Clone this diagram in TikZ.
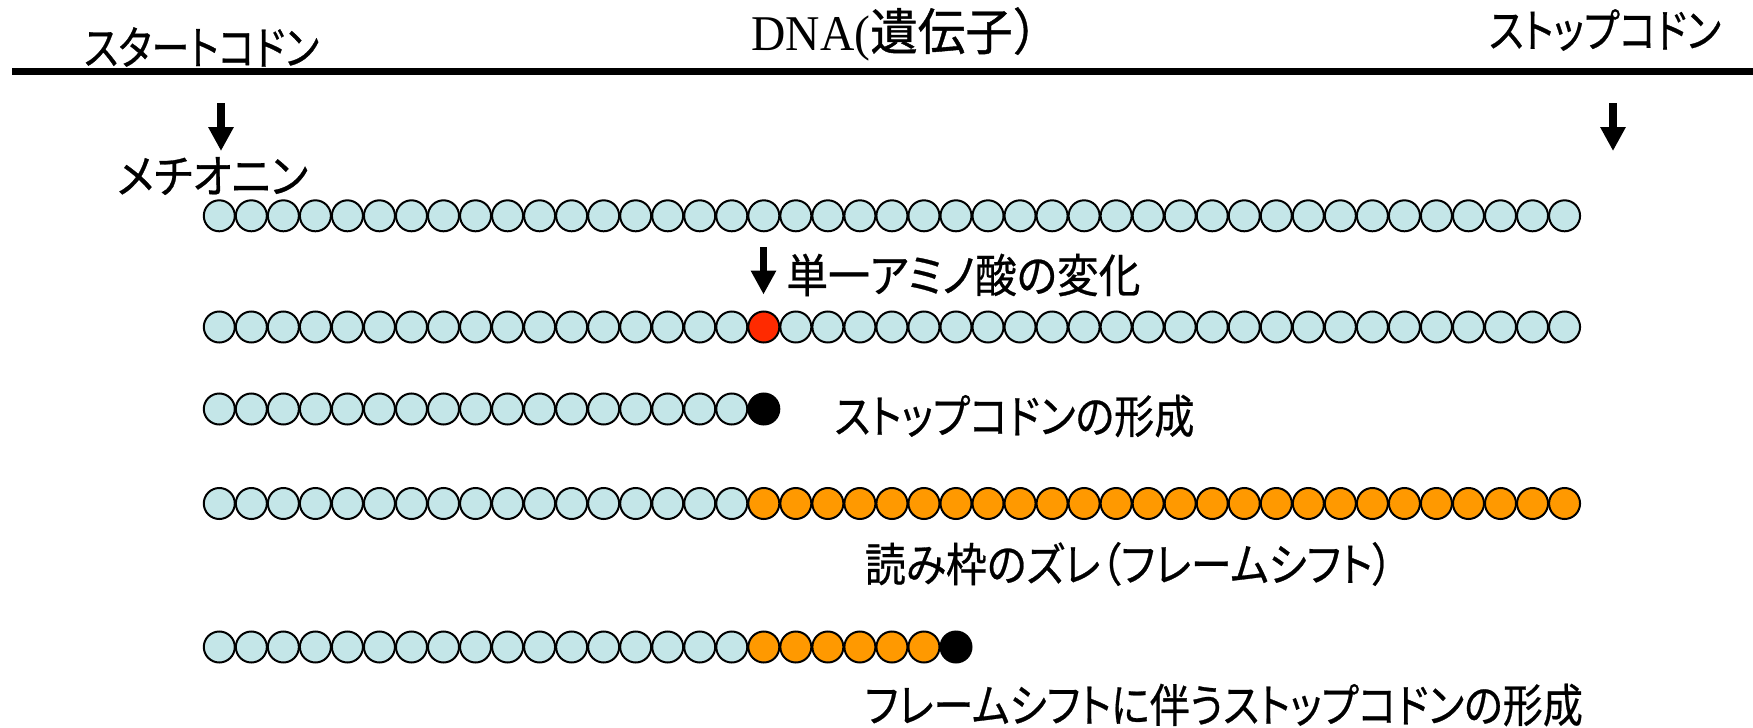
\documentclass[tikz,border=0pt]{standalone}
\usepackage{fontspec}
\setmainfont{Liberation Serif}
\newfontfamily\jp[RawFeature=+palt,FakeBold=0.6]{Noto Sans CJK JP}
\newfontfamily\jpw[FakeBold=0.8]{Noto Sans CJK JP}
\usetikzlibrary{arrows.meta}
\definecolor{aa}{RGB}{196,230,232}
\definecolor{mut}{RGB}{255,42,0}
\definecolor{fshift}{RGB}{255,153,0}
\newcommand{\fitw}[2]{\resizebox{#1}{\height}{#2}}
\begin{document}
\begin{tikzpicture}[x=0.5pt,y=-0.5pt,
  bead/.style={circle,draw=black,line width=1pt,minimum size=15.5pt,inner sep=0pt},
  lab/.style={inner sep=0pt,font=\jp\fontsize{23pt}{27pt}\selectfont},
  darrow/.style={line width=3.75pt,-{Triangle[width=12pt,length=12pt]}}]
\useasboundingbox (0,0) rectangle (1753,728);
% DNA line
\coordinate (L0) at (12,71.5);
\coordinate (L1) at (1753,71.5);
\draw[line width=3.75pt] (L0) -- (L1);
% labels
\node[lab] (start) at (201.5,47) {\fitw{117.5pt}{スタートコドン}};
\node[lab] (stop) at (1605,30) {\fitw{116pt}{ストップコドン}};
\node[inner sep=0pt,anchor=west] (dna) at (751,34) {\fitw{154.5pt}{\fontsize{25pt}{30pt}\selectfont DNA({\jpw 遺伝子）}}};
\node[lab] (met) at (212.5,176) {\fitw{95.5pt}{メチオニン}};
\node[lab,anchor=west] (single) at (786,275) {\fitw{177pt}{単一アミノ酸の変化}};
\node[lab,anchor=west] (stopform) at (834,416) {\fitw{180pt}{ストップコドンの形成}};
\node[lab,anchor=west] (frame) at (864.5,564) {\fitw{264pt}{読み枠のズレ（フレームシフト）}};
\node[lab,anchor=west] (framestop) at (864.5,705) {\fitw{359pt}{フレームシフトに伴うストップコドンの形成}};
% arrows
\coordinate (a1s) at (221,103); \coordinate (a1e) at (221,151);
\coordinate (a2s) at (1613,103); \coordinate (a2e) at (1613,151);
\coordinate (a3s) at (763.5,247); \coordinate (a3e) at (763.5,294.5);
\draw[darrow] (a1s) -- (a1e);
\draw[darrow] (a2s) -- (a2e);
\draw[darrow] (a3s) -- (a3e);
% row 1
\foreach \i in {0,...,42} \node[bead,fill=aa] (r1b\i) at ({219.3+32.03*\i},215.8) {};
% row 2
\foreach \i in {0,...,16} \node[bead,fill=aa] (r2b\i) at ({219.3+32.03*\i},327) {};
\node[bead,fill=mut] (r2b17) at ({219.3+32.03*17},327) {};
\foreach \i in {18,...,42} \node[bead,fill=aa] (r2b\i) at ({219.3+32.03*\i},327) {};
% row 3
\foreach \i in {0,...,16} \node[bead,fill=aa] (r3b\i) at ({219.3+32.03*\i},409) {};
\node[bead,fill=black] (r3b17) at ({219.3+32.03*17},409) {};
% row 4
\foreach \i in {0,...,16} \node[bead,fill=aa] (r4b\i) at ({219.3+32.03*\i},503.5) {};
\foreach \i in {17,...,42} \node[bead,fill=fshift] (r4b\i) at ({219.3+32.03*\i},503.5) {};
% row 5
\foreach \i in {0,...,16} \node[bead,fill=aa] (r5b\i) at ({219.3+32.03*\i},647) {};
\foreach \i in {17,...,22} \node[bead,fill=fshift] (r5b\i) at ({219.3+32.03*\i},647) {};
\node[bead,fill=black] (r5b23) at ({219.3+32.03*23},647) {};
\end{tikzpicture}
\end{document}
